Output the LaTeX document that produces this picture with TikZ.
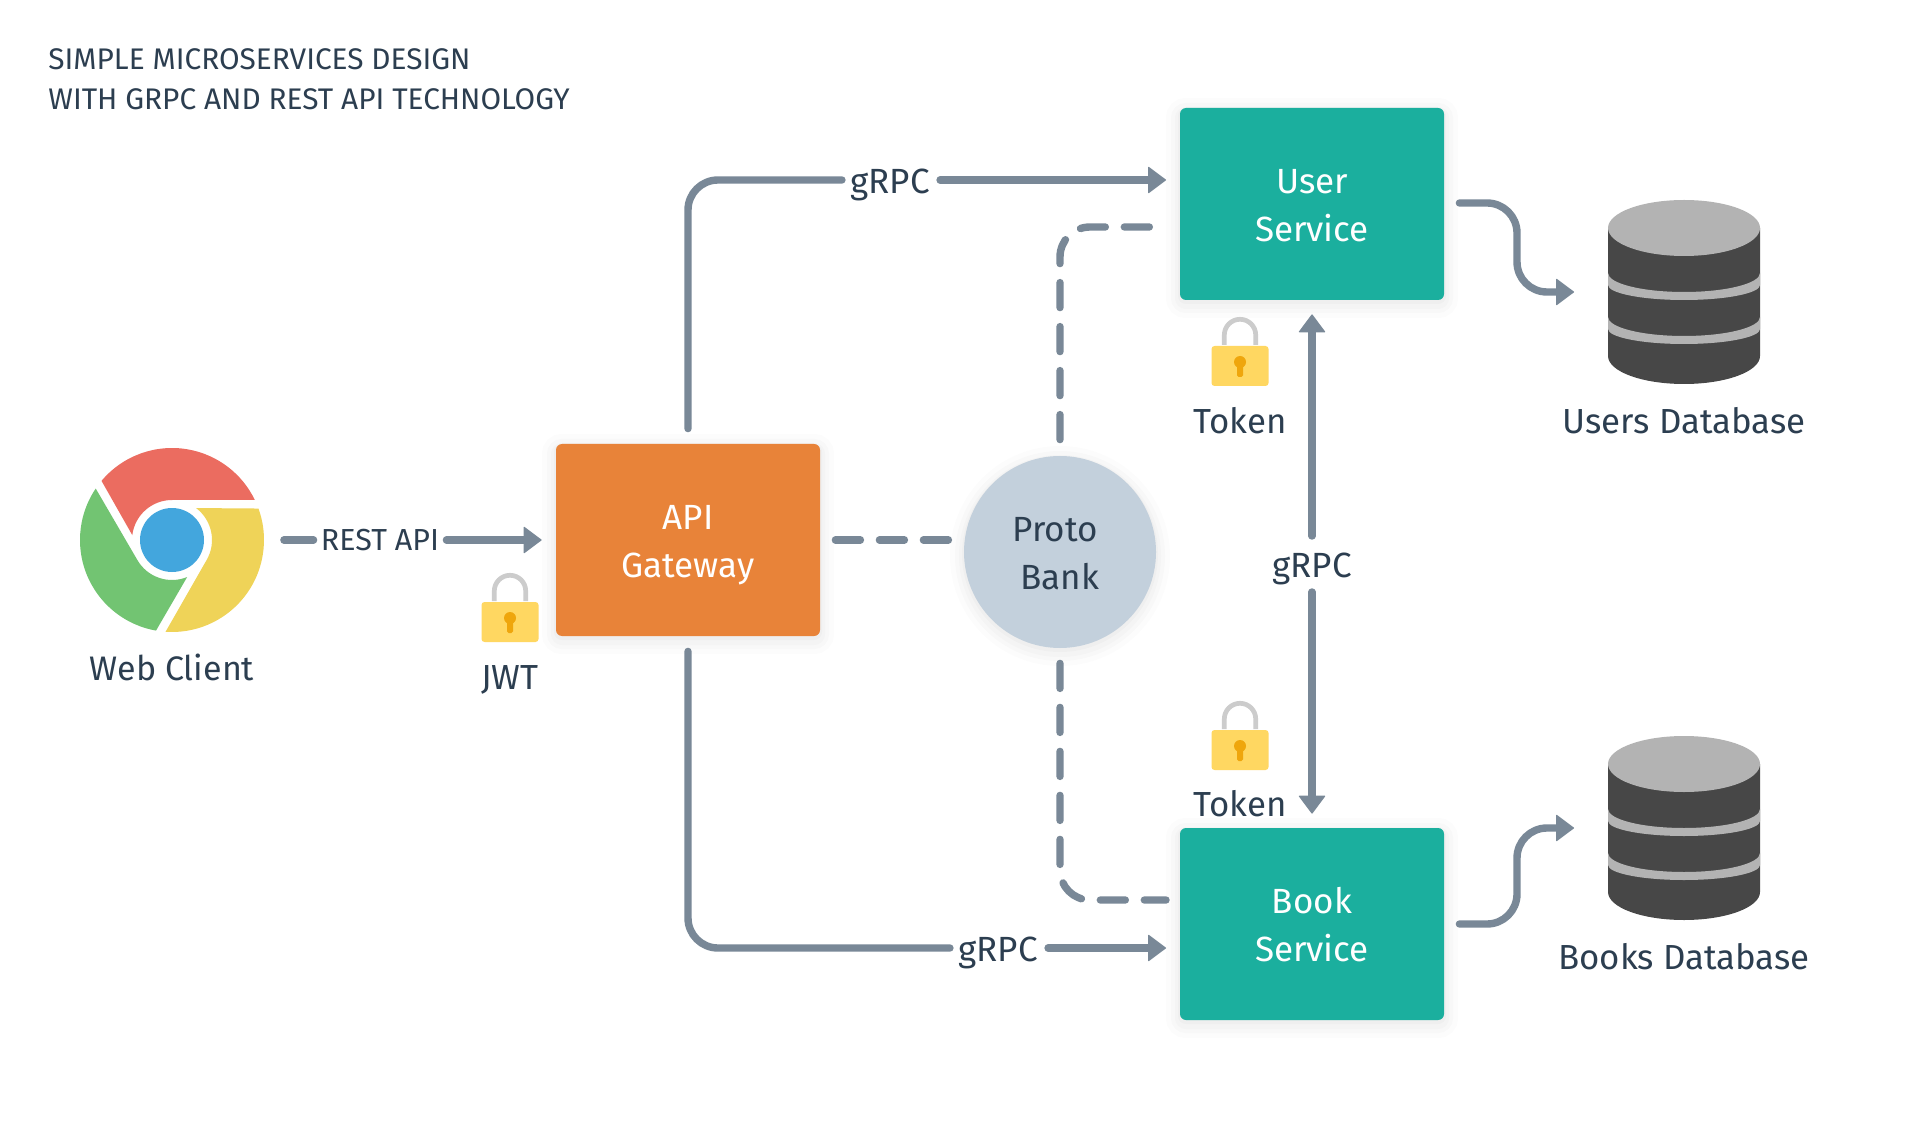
\documentclass[tikz,border=0pt]{standalone}
\usepackage{fontspec}
\setmainfont{Fira Sans}
\usetikzlibrary{arrows.meta,calc}
\definecolor{ink}{HTML}{2C3E50}
\definecolor{wire}{HTML}{798897}
\definecolor{teal}{HTML}{1BAF9E}
\definecolor{orng}{HTML}{E88339}
\definecolor{bank}{HTML}{C3D0DC}
\definecolor{cred}{HTML}{EB6C60}
\definecolor{cyel}{HTML}{EFD358}
\definecolor{cgrn}{HTML}{72C472}
\definecolor{cblu}{HTML}{43A6DD}
\definecolor{lockbody}{HTML}{FFD761}
\definecolor{lockhole}{HTML}{EFA60C}
\definecolor{lockbar}{HTML}{CCCCCC}
\definecolor{dbdark}{HTML}{474747}
\definecolor{dblight}{HTML}{B3B3B3}
\newcommand{\twolines}[2]{\rule{0pt}{17.2pt}#1\\\rule[-4pt]{0pt}{4pt}#2}
\tikzset{
  softshadow/.style={
    preaction={draw=black,draw opacity=.012,line width=14pt,transform canvas={yshift=-2pt}},
    preaction={draw=black,draw opacity=.014,line width=9pt,transform canvas={yshift=-2pt}},
    preaction={draw=black,draw opacity=.016,line width=5pt,transform canvas={yshift=-2pt}},
    preaction={draw=black,draw opacity=.02,line width=2pt,transform canvas={yshift=-1pt}}},
  svcbox/.style={rectangle,rounded corners=3pt,minimum width=132pt,minimum height=96pt,inner sep=0pt,
    text=white,align=center,font=\fontsize{17.5}{24}\selectfont,softshadow},
  wirelbl/.style={inner ysep=0pt,inner xsep=4pt,text=ink,text height=17.2pt,text depth=4pt,font=\fontsize{17.5}{24}\selectfont},
  caption/.style={inner sep=0pt,text=ink,text height=17.2pt,text depth=4pt,font=\fontsize{17.4}{24}\selectfont},
  wireline/.style={draw=wire,line width=3.7pt,line cap=round},
  wirearrow/.style={wireline,-{Triangle[length=9.2pt,width=13.6pt,line width=.6pt,round]}},
  wiredash/.style={wireline,dash pattern=on 12.5pt off 9.5pt},
  padlock/.pic={
    \draw[draw=lockbar,line width=2.35pt] (-15.7,1) -- (-15.7,11) arc[start angle=180,end angle=0,radius=15.7] -- (15.7,1);
    \fill[fill=lockbody,rounded corners=1.5pt] (-28.5,0) rectangle (28.5,-40);
    \fill[fill=lockhole] (0,-16) circle[radius=6];
    \fill[fill=lockhole,rounded corners=.8pt] (-3,-16) rectangle (3,-31);
  },
  database/.pic={
    \fill[fill=dbdark] (-76,0) -- (-76,-128) arc[start angle=180,end angle=360,x radius=76,y radius=28] -- (76,0) -- cycle;
    \fill[fill=dblight] (0,0) ellipse[x radius=76,y radius=28];
    \foreach \dy in {0,-44}{
      \fill[fill=dblight,shift={(0,\dy)}] (-76,-45) arc[start angle=180,end angle=360,x radius=76,y radius=19]
         -- (76,-57) arc[start angle=360,end angle=180,x radius=76,y radius=15] -- cycle;
    }
  }
}
\begin{document}
\begin{tikzpicture}[x=.5pt,y=.5pt]
\useasboundingbox[fill=white] (0,0) rectangle (1920,-1122);

% title
\node[anchor=west,inner sep=0pt,text=ink,align=left,font=\fontsize{14.9}{20}\selectfont] (title) at (48,-79)
  {SIMPLE MICROSERVICES DESIGN\\WITH GRPC AND REST API TECHNOLOGY};

% chrome icon
\node[circle,minimum size=92pt,inner sep=0pt] (web) at (172,-540) {};
\begin{scope}[shift={(172,-540)}]
  \fill[cred] (140:92) arc[start angle=140,end angle=25.8,radius=92] -- (0,40) arc[start angle=90,end angle=173,radius=40] -- cycle;
  \fill[cyel] (20:92) arc[start angle=20,end angle=-94,radius=92] -- (-30:40) arc[start angle=-30,end angle=53,radius=40] -- cycle;
  \fill[cgrn] (146:92) arc[start angle=146,end angle=260,radius=92] -- (-67.7:40) arc[start angle=-67.7,end angle=-150,radius=40] -- cycle;
  \fill[cblu] (0,0) circle[radius=32];
\end{scope}
\node[caption,font=\fontsize{17}{24}\selectfont] (webcap) at (172,-667) {Web Client};

% boxes
\node[svcbox,fill=orng] (gw) at (688,-540) {\twolines{API}{Gateway}};
\node[svcbox,fill=teal] (user) at (1312,-204) {\twolines{User}{Service}};
\node[svcbox,fill=teal] (book) at (1312,-924) {\twolines{Book}{Service}};
\node[circle,minimum size=96pt,inner sep=0pt,fill=bank,text=ink,align=center,softshadow,font=\fontsize{17.5}{24}\selectfont] (proto) at (1060,-552) {\twolines{Proto\hspace*{5pt}}{Bank}};

% databases
\pic at (1684,-228) {database};
\pic at (1684,-764) {database};
\node[caption] (udb) at (1684,-420) {Users Database};
\node[caption] (bdb) at (1684,-956) {Books Database};
\coordinate (udbin) at (1588,-292);
\coordinate (bdbin) at (1588,-828);

% locks
\pic at (510,-602) {padlock};
\pic at (1240,-346) {padlock};
\pic at (1240,-730) {padlock};
\node[caption] (jwt) at (510,-676) {JWT};
\node[caption] (tok1) at (1240,-420) {Token};
\node[caption] (tok2) at (1240,-803) {Token};

% connector labels
\node[wirelbl,font=\fontsize{15.2}{20}\selectfont,text height=14pt,text depth=4pt,inner xsep=3.5pt] (lrest) at (380,-540) {REST API};
\node[wirelbl] (lup) at (890,-180) {gRPC};
\node[wirelbl] (ldown) at (998,-948) {gRPC};
\node[wirelbl,inner ysep=3.2pt] (lmid) at (1312,-564) {gRPC};

\coordinate (userin) at (1180,-180);
\coordinate (bookin) at (1180,-948);
\coordinate (userdash) at (1180,-227);
\coordinate (bookdash) at (1180,-900);

% connectors
\draw[wireline,shorten <=9.75pt] (web.east) -- (lrest.west);
\draw[wirearrow,shorten >=7pt] (lrest.east) -- (gw.west);

\draw[wireline,rounded corners=15pt,shorten <=7.5pt] (gw.north) |- (lup.west);
\draw[wirearrow,shorten <=1pt,shorten >=7pt] (lup.east) -- (userin);
\draw[wireline,rounded corners=15pt,shorten <=7.5pt] (gw.south) |- (ldown.west);
\draw[wirearrow,shorten <=1pt,shorten >=7pt] (ldown.east) -- (bookin);

\draw[wirearrow,shorten >=7pt] (lmid.north) -- (user.south);
\draw[wirearrow,shorten >=7pt] (lmid.south) -- (book.north);

\draw[wiredash,shorten <=7.5pt,shorten >=4.5pt] (gw.east) -- (proto.west |- gw.east);
\draw[wiredash,rounded corners=15pt,shorten <=8pt,shorten >=12.5pt] (proto.north) |- (userdash);
\draw[wiredash,rounded corners=15pt,shorten <=7.5pt,shorten >=7pt] (proto.south) |- (bookdash);

\draw[wirearrow,rounded corners=15pt,shorten <=7.5pt,shorten >=7pt] (user.east |- 0,-203) -- (1517,-203) -- (1517,-292) -- (udbin);
\draw[wirearrow,rounded corners=15pt,shorten <=7.5pt,shorten >=7pt] (book.east) -- (1517,-924) -- (1517,-828) -- (bdbin);
\end{tikzpicture}
\end{document}
